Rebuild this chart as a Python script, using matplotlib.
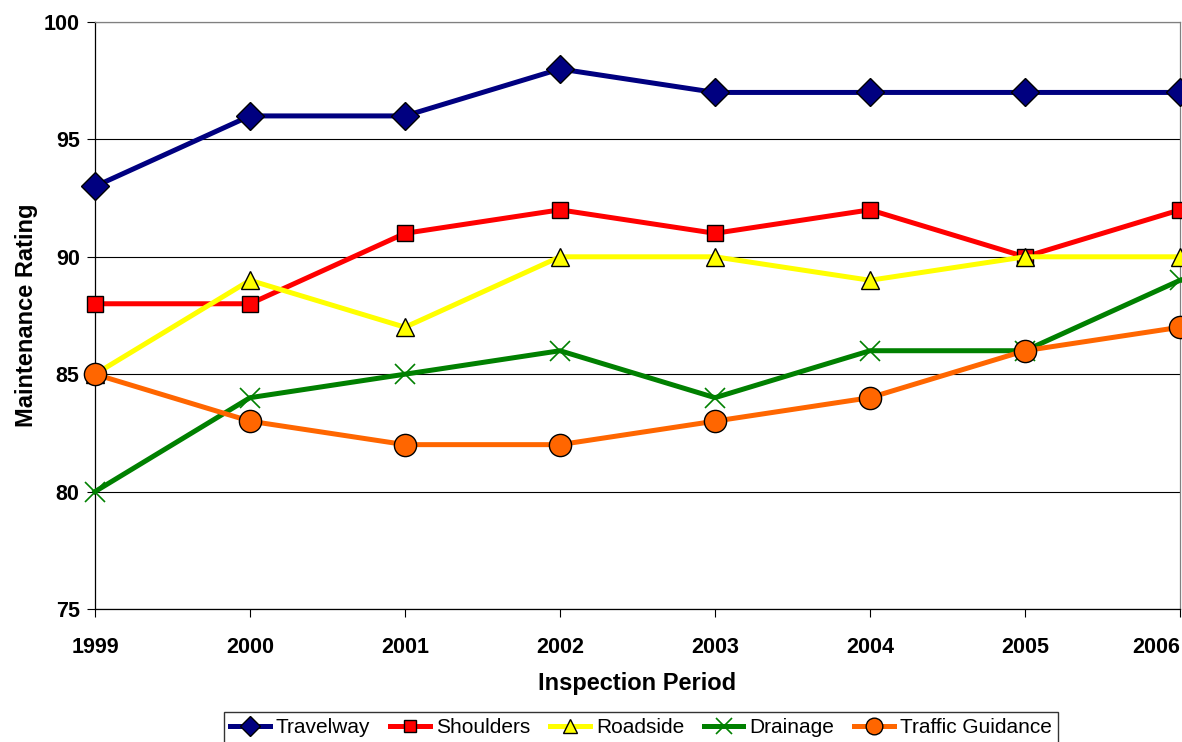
import matplotlib
matplotlib.use("Agg")
import matplotlib.pyplot as plt

years = [1999, 2000, 2001, 2002, 2003, 2004, 2005, 2006]
travelway = [93, 96, 96, 98, 97, 97, 97, 97]
shoulders = [88, 88, 91, 92, 91, 92, 90, 92]
roadside = [85, 89, 87, 90, 90, 89, 90, 90]
drainage = [80, 84, 85, 86, 84, 86, 86, 89]
traffic_guidance = [85, 83, 82, 82, 83, 84, 86, 87]
yticks = [75, 80, 85, 90, 95, 100]

plt.rcParams['font.family'] = ['Liberation Sans', 'DejaVu Sans']

W, H = 1182, 742
fig = plt.figure(figsize=(W / 100, H / 100), dpi=100)
ax = fig.add_axes([95 / W, 1 - 609 / H, (1180 - 95) / W, (609 - 22) / H])

lw = 3.6
series = [
    ("Travelway", travelway, dict(color="#000080", marker="D", ms=14, mfc="#000080")),
    ("Shoulders", shoulders, dict(color="#FF0000", marker="s", ms=12, mfc="#FF0000")),
    ("Roadside", roadside, dict(color="#FFFF00", marker="^", ms=12.5, mfc="#FFFF00")),
    ("Drainage", drainage, dict(color="#008000", marker="x", ms=15, mfc="#008000", mec="#008000", mew=1.2)),
    ("Traffic Guidance", traffic_guidance, dict(color="#FF6600", marker="o", ms=16, mfc="#FF6600")),
]
for name, vals, st in series:
    kw = dict(st)
    kw.setdefault("mec", "black")
    kw.setdefault("mew", 1.0)
    ax.plot(years, vals, lw=lw, label=name, clip_on=False, zorder=3, **kw)

ax.set_xlim(1999, 2006)
ax.set_ylim(75, 100)
ax.set_yticks(yticks)
ax.set_xticks(years)
ax.yaxis.grid(True, color="black", lw=0.8)
ax.set_axisbelow(True)
ax.tick_params(axis="both", labelsize=15.5, length=6, width=0.8, color="black", direction="out")
ax.tick_params(axis="x", pad=14)
ax.tick_params(axis="y", pad=5)
for lab in ax.get_xticklabels() + ax.get_yticklabels():
    lab.set_fontweight("bold")
ax.get_xticklabels()[-1].set_horizontalalignment("right")
ax.spines["left"].set_color("black")
ax.spines["bottom"].set_color("black")
ax.spines["top"].set_color("#808080")
ax.spines["right"].set_color("#808080")
for s in ax.spines.values():
    s.set_linewidth(0.9)

ax.set_xlabel("Inspection Period", fontsize=17, fontweight="bold", labelpad=10)
ax.set_ylabel("Maintenance Rating", fontsize=17, fontweight="bold", labelpad=4)

leg = fig.legend(loc="upper center", bbox_to_anchor=(641 / W, 1 - 712 / H), ncol=5,
                 fontsize=15, frameon=True, fancybox=False, edgecolor="black",
                 handlelength=1.9, handletextpad=0.3, columnspacing=0.95,
                 borderpad=0.3, borderaxespad=0, markerscale=0.75)
leg.get_frame().set_linewidth(1.0)

fig.savefig("out.png", dpi=100)
